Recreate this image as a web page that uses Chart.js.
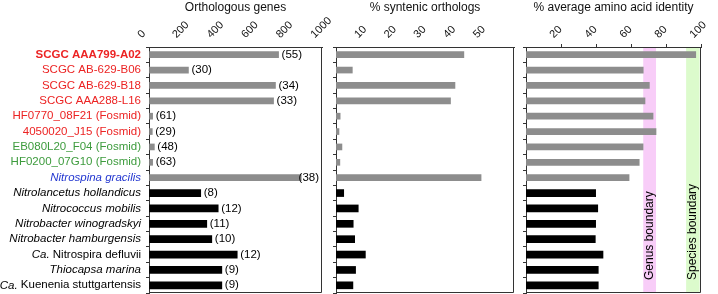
<!DOCTYPE html>
<html><head><meta charset="utf-8">
<script src="https://cdn.jsdelivr.net/npm/chart.js@4.4.0/dist/chart.umd.min.js"></script>
<style>
html,body{margin:0;padding:0;background:#fff;}
#wrap{position:relative;width:718px;height:294px;overflow:hidden;background:#fff;}
canvas{position:absolute;top:0;}
</style></head><body>
<div id="wrap">
<canvas id="c1" width="346" height="294" style="left:0px"></canvas>
<canvas id="c2" width="215" height="294" style="left:321px"></canvas>
<canvas id="c3" width="207" height="294" style="left:511px"></canvas>
</div>
<script>
// ---------------- data ----------------
const categories = [
  'SCGC AAA799-A02','SCGC AB-629-B06','SCGC AB-629-B18','SCGC AAA288-L16',
  'HF0770_08F21 (Fosmid)','4050020_J15 (Fosmid)','EB080L20_F04 (Fosmid)','HF0200_07G10 (Fosmid)',
  'Nitrospina gracilis','Nitrolancetus hollandicus','Nitrococcus mobilis','Nitrobacter winogradskyi',
  'Nitrobacter hamburgensis','Ca. Nitrospira defluvii','Thiocapsa marina','Ca. Kuenenia stuttgartensis'
];
const nitrospinaCount = 9; // first rows: Nitrospina genomes (grey bars)
const orthologousGenes = [749,228,731,720,21,19,31,21,880,299,400,334,363,510,421,421];
const orthologCounts   = [55,30,34,33,61,29,48,63,38,8,12,11,10,12,9,9];
const syntenicOrthologs = [43.1,5.5,40.1,38.6,1.4,1.0,2.0,1.3,48.9,2.6,7.5,5.8,6.3,9.9,6.6,5.7];
const aminoAcidIdentity = [97,67,70.5,68,72.6,74.3,66.9,64.7,58.9,39.8,41,39.8,39.6,44,41.3,41.3];
const orthoTicks = [0,200,400,600,800,1000];
const syntenicTicks = [10,20,30,40,50];
const aaiTicks = [20,40,60,80,100];
const genusBoundary = [67, 74.3];
const speciesBoundary = [91.5, 99.2];

// ---------------- helpers ----------------
const FONT = "'Liberation Sans', Arial, Helvetica, sans-serif";
const RED = '#ec2323', GREEN = '#3d9b3d', BLUE = '#2236d0';

function labelSegments(i){
  const name = categories[i];
  if (i === 0) return [{t:name, style:'bold', c:RED}];
  if (i < 6) return [{t:name, style:'normal', c:RED}];
  if (i < 8) return [{t:name, style:'normal', c:GREEN}];
  if (i === 8) return [{t:name, style:'italic', c:BLUE}];
  if (name.startsWith('Ca. ')) return [{t:'Ca.', style:'italic', c:'#000'},{t:name.slice(3), style:'normal', c:'#000'}];
  return [{t:name, style:'italic', c:'#000'}];
}

function splitDatasets(values){
  return [
    {data: values.map((v,i)=> i < nitrospinaCount ? v : null), backgroundColor:'#8d8d8d', barThickness:6, grouped:false},
    {data: values.map((v,i)=> i < nitrospinaCount ? null : v), backgroundColor:'#000000', barThickness:7, grouped:false}
  ];
}

const framePlugin = {
  id:'frame',
  afterDatasetsDraw(chart){
    const {ctx, chartArea:a} = chart;
    ctx.save();
    ctx.strokeStyle = '#333'; ctx.lineWidth = 1;
    ctx.beginPath();
    const r = Math.round(a.right) - 0.5, b = Math.round(a.bottom) - 0.5;
    ctx.moveTo(r, a.top); ctx.lineTo(r, b); ctx.lineTo(a.left, b);
    ctx.stroke();
    ctx.restore();
  }
};

function makePanel(id, values, cfg){
  return new Chart(document.getElementById(id), {
    type:'bar',
    data:{labels:categories, datasets:splitDatasets(values)},
    options:{
      indexAxis:'y', responsive:false, animation:false,
      layout:{padding:{left:0, right:cfg.padRight, top:0, bottom:1}},
      plugins:{legend:{display:false}, tooltip:{enabled:false}},
      scales:{
        x:{
          type:'linear', position:'top', min:0, max:cfg.max,
          ticks:{stepSize:cfg.step, autoSkip:false, minRotation:45, maxRotation:45, padding:3,
                 color:'#111', font:{family:FONT, size:11},
                 callback:(v)=> cfg.ticks.includes(v) ? String(v) : null},
          grid:{drawOnChartArea:false, drawTicks:true, tickLength:3, color:cfg.tickColor},
          border:{display:true, color:'#333', width:1},
          title:{display:true, text:cfg.title, color:'#111', font:{family:FONT, size:12}, padding:{top:0,bottom:0}},
          afterFit:(s)=>{ s.height = 47; }
        },
        y:{
          type:'category',
          ticks:{display:false},
          grid:{drawOnChartArea:false, drawTicks:true, tickLength:3, offset:true, color:'#333'},
          border:{display:true, color:'#333', width:1},
          afterFit:(s)=>{ s.width = cfg.yWidth; }
        }
      }
    },
    plugins:[framePlugin].concat(cfg.plugins || [])
  });
}

// panel 1 extras: category labels and ortholog counts
const yLabelPlugin = {
  id:'ylabels',
  afterDraw(chart){
    const {ctx} = chart;
    const y = chart.scales.y;
    const xRight = chart.chartArea.left - 8;
    ctx.save();
    ctx.textBaseline = 'middle';
    ctx.textAlign = 'left';
    categories.forEach((_, i)=>{
      const segs = labelSegments(i);
      let total = 0;
      segs.forEach(s=>{ ctx.font = s.style + ' 11.5px ' + FONT; s.w = ctx.measureText(s.t).width; total += s.w; });
      let x = xRight - total;
      const py = y.getPixelForValue(i);
      segs.forEach(s=>{ ctx.font = s.style + ' 11.5px ' + FONT; ctx.fillStyle = s.c; ctx.fillText(s.t, x, py); x += s.w; });
    });
    ctx.restore();
  }
};
const countPlugin = {
  id:'counts',
  afterDatasetsDraw(chart){
    const {ctx, chartArea:a} = chart;
    ctx.save();
    ctx.font = '11.5px ' + FONT;
    ctx.fillStyle = '#000';
    ctx.textBaseline = 'middle';
    chart.data.datasets.forEach((ds, di)=>{
      const meta = chart.getDatasetMeta(di);
      meta.data.forEach((el, i)=>{
        if (ds.data[i] == null) return;
        const txt = '(' + orthologCounts[i] + ')';
        const w = ctx.measureText(txt).width;
        const x = Math.min(el.x + 3, a.right - w - 3);
        ctx.fillText(txt, x, el.y);
      });
    });
    ctx.restore();
  }
};

// panel 3 extras: boundary bands
const bandPlugin = {
  id:'bands',
  beforeDatasetsDraw(chart){
    const {ctx, chartArea:a} = chart;
    const x = chart.scales.x;
    ctx.save();
    ctx.fillStyle = '#f8cdf8';
    ctx.fillRect(x.getPixelForValue(genusBoundary[0]), a.top+1, x.getPixelForValue(genusBoundary[1]) - x.getPixelForValue(genusBoundary[0]), a.bottom - a.top - 1);
    ctx.fillStyle = '#dcfbcc';
    ctx.fillRect(x.getPixelForValue(speciesBoundary[0]), a.top+1, x.getPixelForValue(speciesBoundary[1]) - x.getPixelForValue(speciesBoundary[0]), a.bottom - a.top - 1);
    ctx.restore();
  },
  afterDatasetsDraw(chart){
    const {ctx, chartArea:a} = chart;
    const x = chart.scales.x;
    ctx.save();
    ctx.font = '12px ' + FONT;
    ctx.fillStyle = '#000';
    ctx.textBaseline = 'middle';
    ctx.textAlign = 'left';
    [[genusBoundary,'Genus boundary'],[speciesBoundary,'Species boundary']].forEach(([b, t])=>{
      const cx = (x.getPixelForValue(b[0]) + x.getPixelForValue(b[1])) / 2;
      ctx.save();
      ctx.translate(cx, a.bottom - 13);
      ctx.rotate(-Math.PI/2);
      ctx.fillText(t, 0, 0);
      ctx.restore();
    });
    ctx.restore();
  }
};

makePanel('c1', orthologousGenes, {max:1000, step:200, ticks:orthoTicks, title:'Orthologous genes',
  yWidth:149, padRight:24, tickColor:'rgba(0,0,0,0)', plugins:[yLabelPlugin, countPlugin]});
makePanel('c2', syntenicOrthologs, {max:60, step:10, ticks:syntenicTicks, title:'% syntenic orthologs',
  yWidth:15, padRight:22, tickColor:'rgba(0,0,0,0)'});
makePanel('c3', aminoAcidIdentity, {max:100, step:20, ticks:aaiTicks, title:'% average amino acid identity',
  yWidth:15, padRight:17, tickColor:'#333', plugins:[bandPlugin]});
</script>
</body></html>
